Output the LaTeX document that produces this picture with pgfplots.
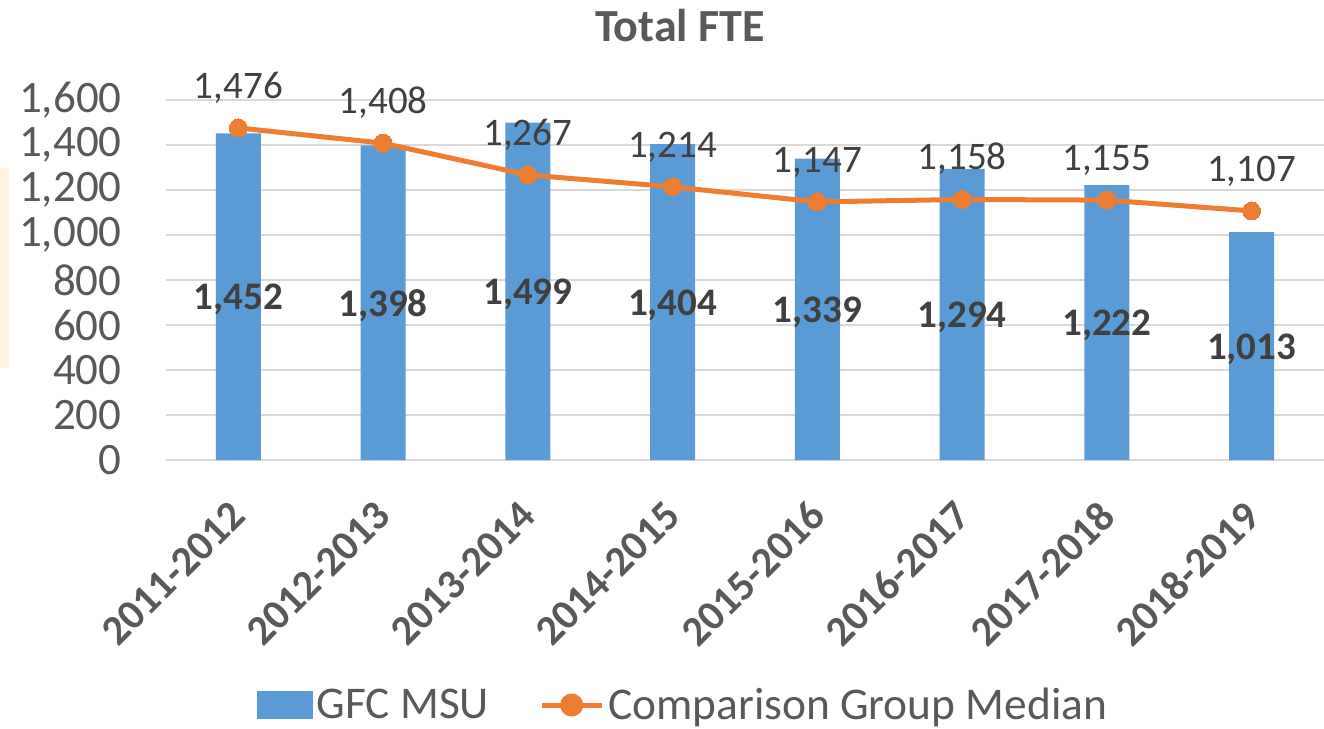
\documentclass[border=0pt]{standalone}
\usepackage{fontspec}
\setmainfont{Carlito}
\usepackage{pgfplots}
\pgfplotsset{compat=1.18}
\definecolor{barblue}{HTML}{5B9BD5}
\definecolor{orng}{HTML}{ED7D31}
\definecolor{textgray}{HTML}{595959}
\definecolor{labelgray}{HTML}{404040}
\definecolor{gridgray}{HTML}{D9D9D9}
\definecolor{yel}{HTML}{FFF4DB}
\begin{document}
\begin{tikzpicture}
\begin{axis}[
  scale only axis, width=579pt, height=180pt,
  xmin=-0.5, xmax=7.5, ymin=0, ymax=1600,
  xtick={0,1,2,3,4,5,6,7},
  xticklabels={2011-2012,2012-2013,2013-2014,2014-2015,2015-2016,2016-2017,2017-2018,2018-2019},
  ytick={0,200,400,600,800,1000,1200,1400,1600},
  ymajorgrids, grid style={gridgray, line width=1pt},
  axis x line*=bottom, axis y line*=left,
  x axis line style={gridgray, line width=1pt, -},
  y axis line style={draw=none},
  major tick length=0pt, tick style={draw=none},
  /pgf/number format/assume math mode=true,
  /pgf/number format/1000 sep={,},
  yticklabel style={font=\fontsize{22.5}{22.5}\selectfont, text=textgray, inner sep=0pt, xshift=-22pt},
  xticklabel style={font=\bfseries\fontsize{21}{21}\selectfont, text=textgray, inner sep=0pt, xshift=-5pt, yshift=-19pt, rotate=45, anchor=north east},
  title={Total FTE},
  title style={font=\bfseries\fontsize{23}{23}\selectfont, text=textgray, at={(257pt,211pt)}, anchor=center},
  legend style={at={(259pt,-122.5pt)}, anchor=center, draw=none, fill=none, legend columns=2,
    font=\fontsize{22.7}{22.7}\selectfont, text=textgray, /tikz/every even column/.append style={column sep=23pt},
    inner sep=0pt},
  legend cell align=left,
]
\addplot[ybar, bar width=22.5pt, fill=barblue, draw=none,
  nodes near coords,
  visualization depends on={rawy \as \rawy},
  nodes near coords style={anchor=center, yshift=-\rawy*0.05625pt-1.5pt, font=\bfseries\fontsize{19.5}{19.5}\selectfont, text=labelgray},
  legend image code/.code={\fill[barblue] (0pt,-7pt) rectangle (28pt,7pt);}]
  coordinates {(0,1452) (1,1398) (2,1499) (3,1404) (4,1339) (5,1294) (6,1222) (7,1013)};
\addlegendentry{GFC MSU}
\addplot[color=orng, line width=2.5pt, mark=*, mark size=4.5pt, mark options={fill=orng, draw=orng, line width=0pt},
  nodes near coords,
  nodes near coords style={anchor=south, yshift=9pt, font=\fontsize{19.5}{19.5}\selectfont, text=labelgray},
  legend image code/.code={\draw[orng, line width=2.5pt] (0pt,0pt) -- (30pt,0pt); \fill[orng] (15pt,0pt) circle (4.5pt);}]
  coordinates {(0,1476) (1,1408) (2,1267) (3,1214) (4,1147) (5,1158) (6,1155) (7,1107)};
\addlegendentry{Comparison Group Median}
\end{axis}
\fill[yel] (-83pt,46pt) rectangle (-78.5pt,146pt);
\pgfresetboundingbox
\path[use as bounding box] (-83pt,-134.5pt) rectangle (579pt,230pt);
\end{tikzpicture}
\end{document}
